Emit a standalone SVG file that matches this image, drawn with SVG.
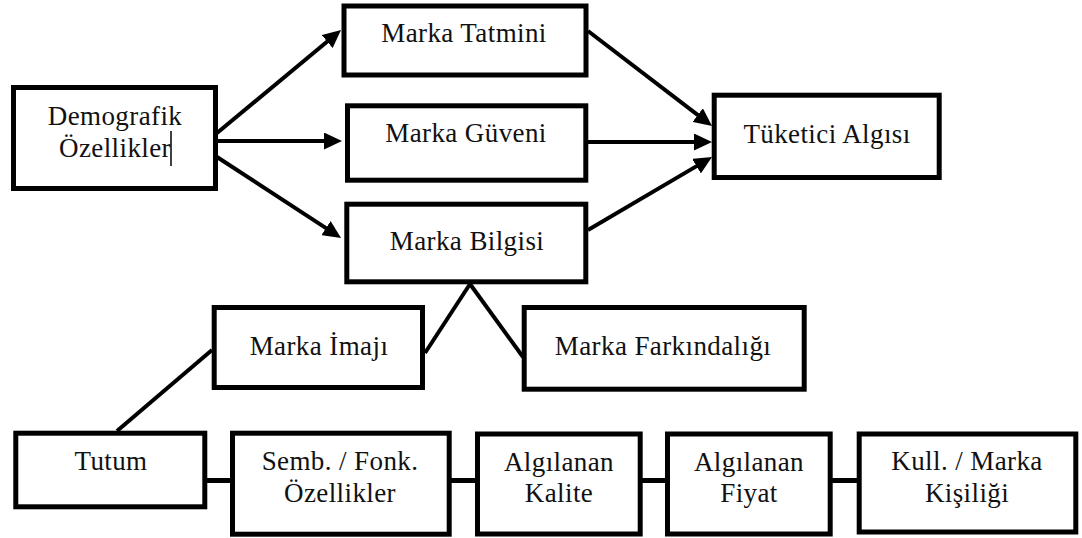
<svg xmlns="http://www.w3.org/2000/svg" width="1082" height="538" viewBox="0 0 1082 538">
  <style>
    .box { fill: #ffffff; stroke: #000000; stroke-width: 5; }
    .lbl { font-size: 27px; letter-spacing: 0.4px; fill: #111111; text-anchor: middle; }
    .arrow { stroke: #000000; stroke-width: 4; fill: none; marker-end: url(#head); }
    .link { stroke: #000000; stroke-width: 4; fill: none; }
    .bar { stroke: #000000; stroke-width: 5; fill: none; }
  </style>
  <defs>
    <marker id="head" markerUnits="userSpaceOnUse" markerWidth="18" markerHeight="17" viewBox="0 0 18 17" refX="6" refY="8.5" orient="auto">
      <path d="M0,0 L18,8.5 L0,17 z" fill="#000000"/>
    </marker>
  </defs>

  <!-- connectors -->
  <g id="connectors">
    <line class="arrow" x1="217" y1="133" x2="331.8" y2="37.7"/>
    <line class="arrow" x1="217" y1="141" x2="330" y2="141"/>
    <line class="arrow" x1="217" y1="157" x2="331" y2="231.4"/>
    <line class="arrow" x1="588" y1="31" x2="702.5" y2="118.7"/>
    <line class="arrow" x1="588" y1="142" x2="700" y2="142"/>
    <line class="arrow" x1="588" y1="230" x2="701.7" y2="163.1"/>
    <line class="link" x1="470" y1="284" x2="425" y2="353"/>
    <line class="link" x1="470" y1="284" x2="523" y2="357"/>
    <line class="link" x1="212" y1="350" x2="117" y2="431"/>
    <line class="bar" x1="207" y1="480.5" x2="231" y2="480.5"/>
    <line class="bar" x1="451" y1="480.5" x2="476" y2="480.5"/>
    <line class="bar" x1="642" y1="480.5" x2="666" y2="480.5"/>
    <line class="bar" x1="832" y1="480.5" x2="858" y2="480.5"/>
  </g>

  <g font-family="Liberation Serif, DejaVu Serif, serif">
    <g id="demografik">
      <rect class="box" x="13.5" y="87.5" width="202" height="101"/>
      <text class="lbl" x="115" y="125">Demografik</text>
      <text class="lbl" x="115" y="157">Özellikler</text>
      <line x1="171" y1="131" x2="171" y2="166" stroke="#000000" stroke-width="1.5"/>
    </g>

    <g id="marka-tatmini">
      <rect class="box" x="344" y="6" width="242" height="69"/>
      <text class="lbl" x="464" y="42">Marka Tatmini</text>
    </g>

    <g id="marka-guveni">
      <rect class="box" x="347.5" y="105.8" width="238.3" height="74.4"/>
      <text class="lbl" x="466" y="142">Marka Güveni</text>
    </g>

    <g id="marka-bilgisi">
      <rect class="box" x="346.8" y="204.2" width="239" height="77.6"/>
      <text class="lbl" x="467" y="250">Marka Bilgisi</text>
    </g>

    <g id="tuketici-algisi">
      <rect class="box" x="714.2" y="95.2" width="225" height="82.3"/>
      <text class="lbl" x="827" y="143">Tüketici Algısı</text>
    </g>

    <g id="marka-imaji">
      <rect class="box" x="214.2" y="307.5" width="208.3" height="80"/>
      <text class="lbl" x="319" y="355">Marka İmajı</text>
    </g>

    <g id="marka-farkindaligi">
      <rect class="box" x="524.2" y="307.5" width="280" height="81.7"/>
      <text class="lbl" x="663" y="355">Marka Farkındalığı</text>
    </g>

    <g id="tutum">
      <rect class="box" x="15.8" y="433.2" width="189" height="73.6"/>
      <text class="lbl" x="111" y="470">Tutum</text>
    </g>

    <g id="semb-fonk">
      <rect class="box" x="232.5" y="433.2" width="216.7" height="101"/>
      <text class="lbl" x="340" y="470">Semb. / Fonk.</text>
      <text class="lbl" x="340" y="502">Özellikler</text>
    </g>

    <g id="algilanan-kalite">
      <rect class="box" x="477.5" y="434" width="162.7" height="100"/>
      <text class="lbl" x="559" y="470.5">Algılanan</text>
      <text class="lbl" x="559" y="502">Kalite</text>
    </g>

    <g id="algilanan-fiyat">
      <rect class="box" x="667.5" y="434" width="162.7" height="100"/>
      <text class="lbl" x="749" y="470.5">Algılanan</text>
      <text class="lbl" x="749" y="502">Fiyat</text>
    </g>

    <g id="marka-kisiligi">
      <rect class="box" x="859.2" y="434" width="216.6" height="98"/>
      <text class="lbl" x="967" y="470">Kull. / Marka</text>
      <text class="lbl" x="967" y="502">Kişiliği</text>
    </g>
  </g>
</svg>
